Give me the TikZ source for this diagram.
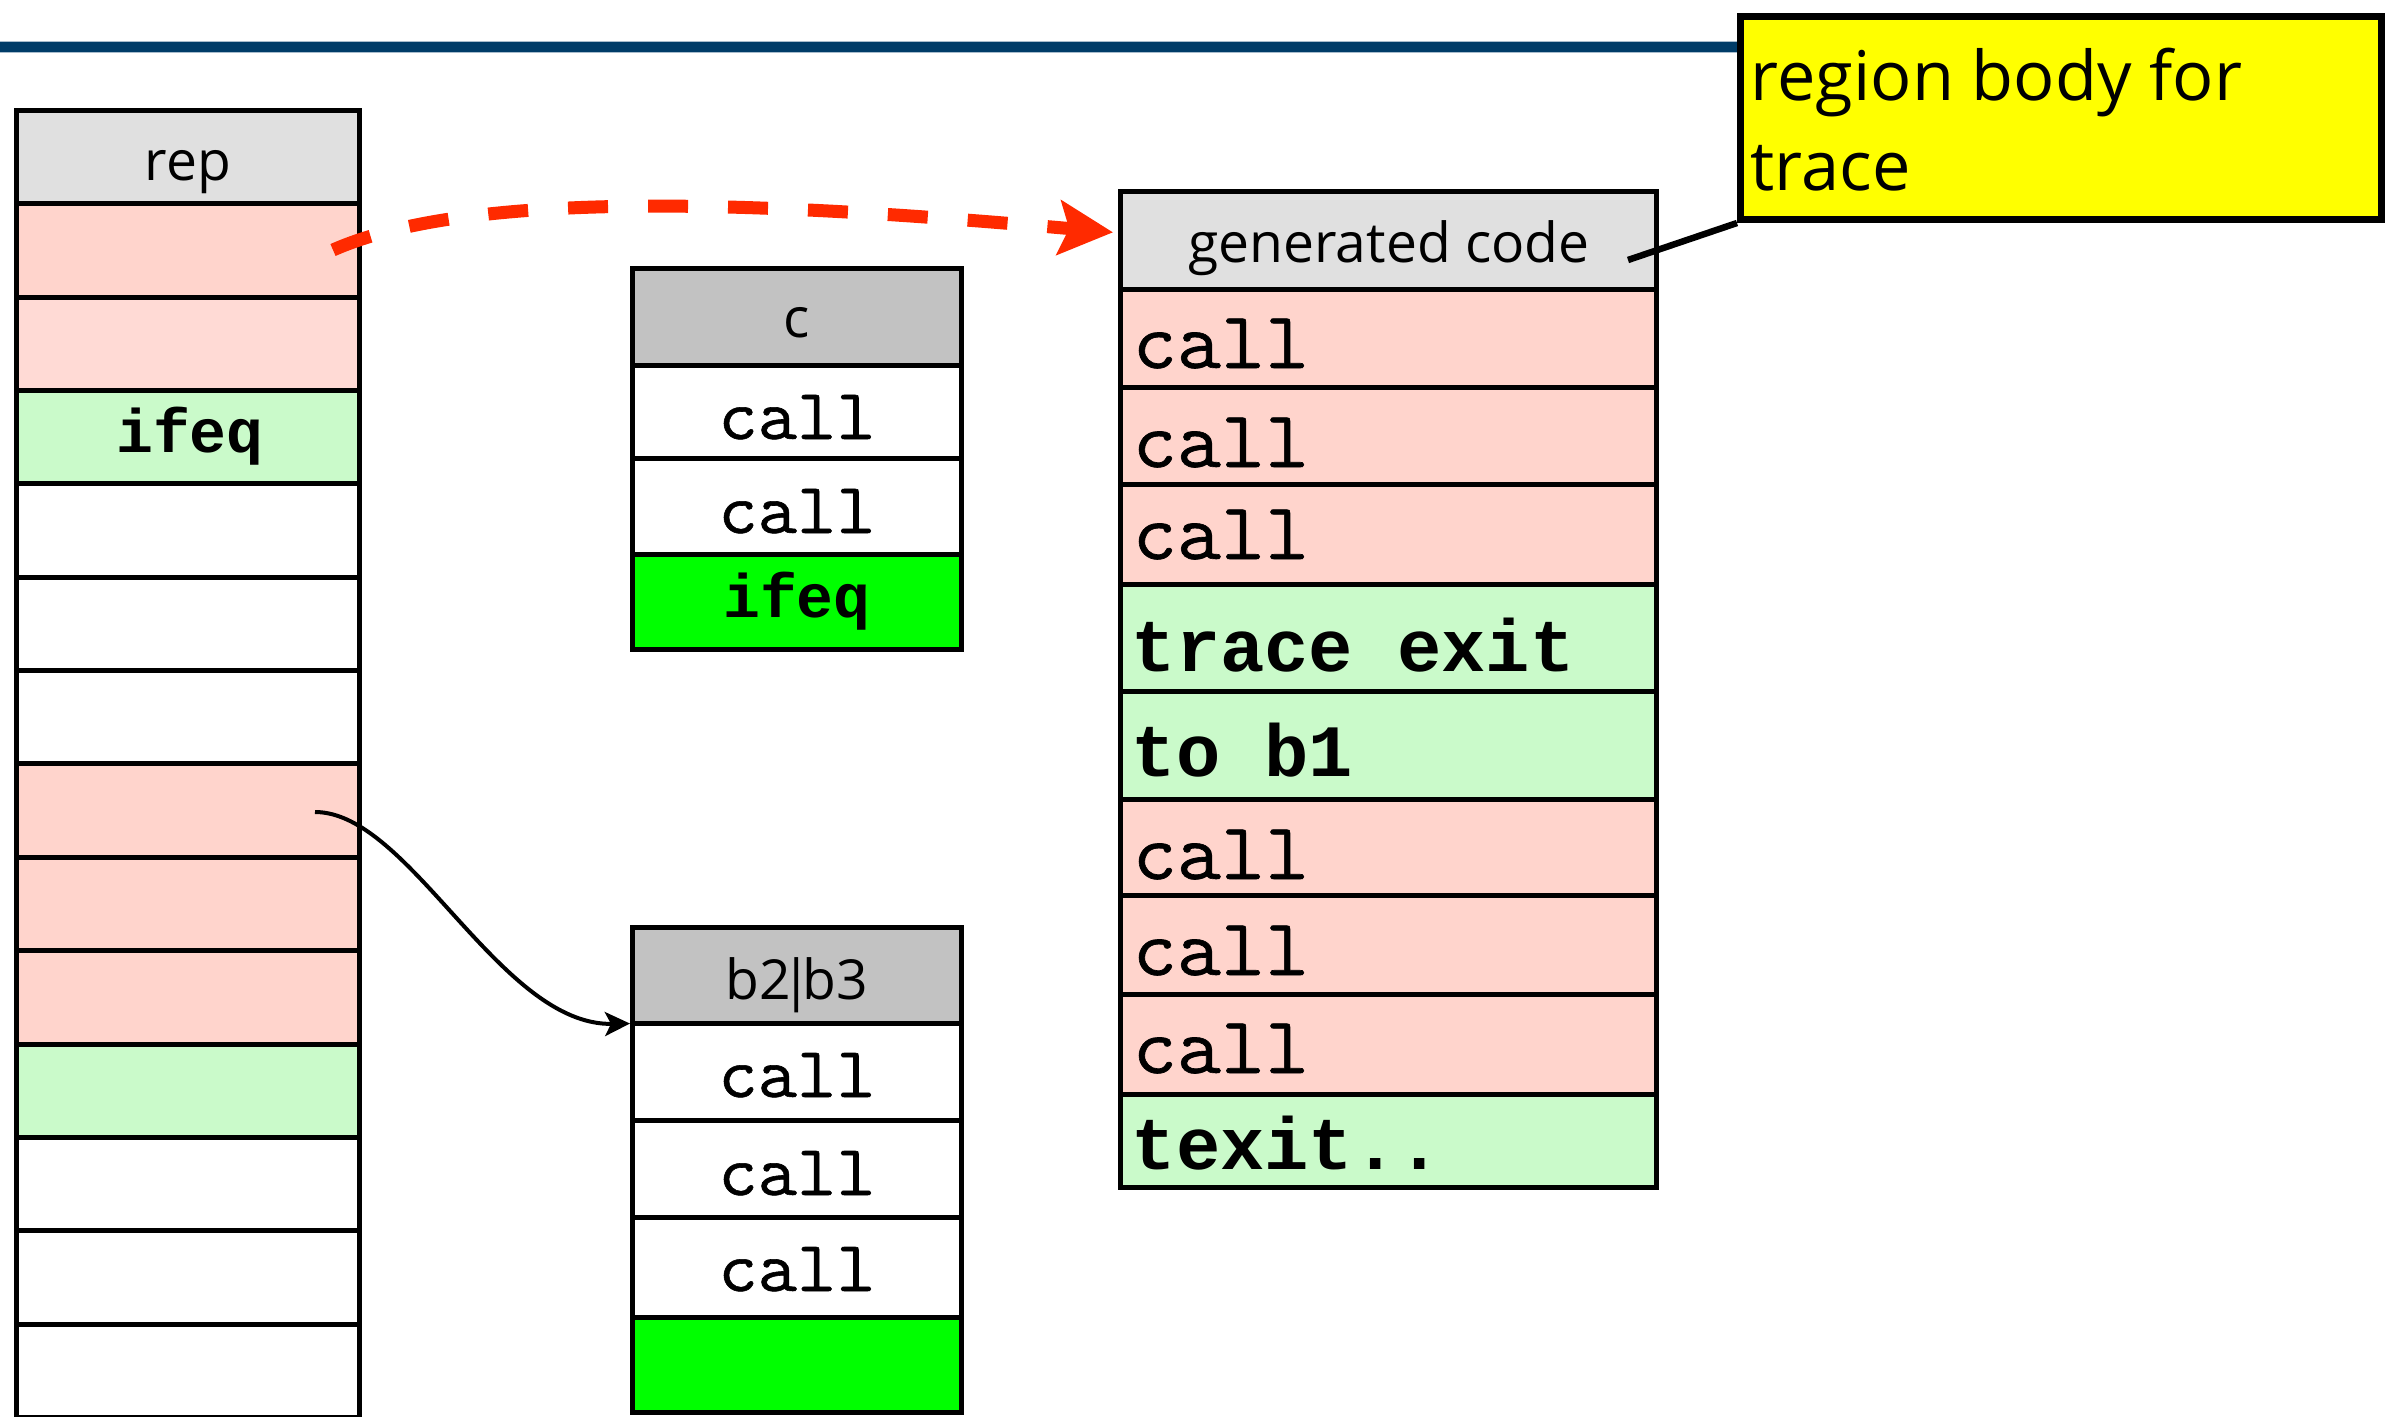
\documentclass[tikz,border=0pt]{standalone}
\usepackage{fontspec}
\setmonofont{Liberation Mono}
\newfontfamily\gill{Open Sans}
\newfontfamily\thintt[FakeStretch=1.06,FakeBold=0.8]{Latin Modern Mono}
\usetikzlibrary{arrows.meta}

\definecolor{hdrlight}{HTML}{E0E0E0}
\definecolor{hdrdark}{HTML}{C2C2C2}
\definecolor{pinkA}{HTML}{FFD4CC}
\definecolor{pinkB}{HTML}{FFDAD5}
\definecolor{paleg}{HTML}{CAFACA}
\definecolor{brightg}{HTML}{00FF00}
\definecolor{notey}{HTML}{FFFF00}
\definecolor{rulebl}{HTML}{003C68}
\definecolor{ruleedge}{HTML}{A8BCCC}
\definecolor{arrred}{HTML}{FF2A00}

\tikzset{
  cellbox/.style={draw=black,line width=0.5mm,inner sep=0pt,outer sep=0pt,anchor=north west},
  hdrtext/.style={anchor=base,inner sep=0pt,font=\gill\fontsize{15.7}{18}\selectfont},
  smallcode/.style={anchor=base,inner sep=0pt,font=\thintt\fontsize{20.5}{22}\selectfont},
  smallbold/.style={anchor=base,inner sep=0pt,font=\ttfamily\bfseries\fontsize{17.5}{20}\selectfont},
  bigcode/.style={anchor=base west,inner sep=0pt,font=\thintt\fontsize{23}{26}\selectfont},
  bigbold/.style={anchor=base west,inner sep=0pt,font=\ttfamily\bfseries\fontsize{21}{24}\selectfont},
  notetext/.style={anchor=base west,inner sep=0pt,font=\gill\fontsize{19.5}{22}\selectfont},
}

% one cell of a column: name, left, top, right, bottom, fill
\newcommand\mkcell[6]{%
  \node[cellbox,fill=#6,minimum width=(#4-#2)*0.1mm,minimum height=(#5-#3)*0.1mm] (#1) at (#2,#3) {};}

\begin{document}
\begin{tikzpicture}[x=0.1mm,y=-0.1mm]
\useasboundingbox (0,0) rectangle (2391,1416);

% title rule
\draw[ruleedge,line width=1.2mm] (0,47) -- (1740,47);
\draw[rulebl,line width=1.0mm] (0,47) -- (1740,47);

% rep column
\foreach \i/\f in {0/hdrlight,1/pinkA,2/pinkB,3/paleg,4/white,5/white,6/white,
                   7/pinkA,8/pinkA,9/pinkA,10/paleg,11/white,12/white,13/white} {
  \pgfmathsetmacro\yt{110.5+\i*93.35}
  \pgfmathsetmacro\yb{\yt+93.35}
  \mkcell{rep\i}{16.5}{\yt}{359}{\yb}{\f}
}
\node[hdrtext] (reptxt) at (188,180) {rep};
\node[smallbold] (repifeq) at (190,452) {ifeq};

% block c
\foreach \i/\t/\b/\f in {0/268.5/365/hdrdark,1/365/458.5/white,2/458.5/554/white,3/554/649.5/brightg} {
  \mkcell{cc\i}{632}{\t}{961.5}{\b}{\f}
}
\node[hdrtext] (ctxt) at (797,337) {c};
\node[smallcode] (ccall1) at (797,439) {call};
\node[smallcode] (ccall2) at (797,533) {call};
\node[smallbold] (cifeq) at (797,617) {ifeq};

% block b2|b3
\foreach \i/\t/\b/\f in {0/927/1023.5/hdrdark,1/1023.5/1120/white,2/1120/1217.5/white,
                         3/1217.5/1317/white,4/1317/1412/brightg} {
  \mkcell{bb\i}{632}{\t}{961.5}{\b}{\f}
}
\node[hdrtext] (btxt) at (797,999) {b2\kern-0.17em|\kern-0.17em b3};
\node[smallcode] (bcall1) at (797,1097) {call};
\node[smallcode] (bcall2) at (797,1195) {call};
\node[smallcode] (bcall3) at (797,1291) {call};

% generated code column
\foreach \i/\t/\b/\f in {0/191.5/289.5/hdrlight,1/289.5/387.5/pinkA,2/387.5/484.5/pinkA,
                         3/484.5/584/pinkA,4/584/691.5/paleg,5/691.5/799/paleg,
                         6/799/895/pinkA,7/895/994/pinkA,8/994/1094/pinkA,9/1094/1187/paleg} {
  \mkcell{gen\i}{1120.5}{\t}{1656.5}{\b}{\f}
}
\node[hdrtext] (gentxt) at (1389,262) {generated code};
\node[bigcode] (g1) at (1132,368) {call};
\node[bigcode] (g2) at (1132,467) {call};
\node[bigcode] (g3) at (1132,559) {call};
\node[bigbold] (g4) at (1131,671) {trace exit};
\node[bigbold] (g5) at (1131,776) {to b1};
\node[bigcode] (g6) at (1132,879) {call};
\node[bigcode] (g7) at (1132,975) {call};
\node[bigcode] (g8) at (1132,1073) {call};
\node[bigbold] (g9) at (1131,1169) {texit..};

% note
\node[draw=black,line width=0.7mm,fill=notey,inner sep=0pt,anchor=north west,
      minimum width=64.1mm,minimum height=20.3mm] (note) at (1737,13) {};
\node[notetext] (nt1) at (1750,100) {region body for};
\node[notetext] (nt2) at (1750,190) {trace};
\coordinate (callpt) at (1628,260);
\draw[line width=0.65mm] (callpt) -- (note.south west);

% trace arrow from rep to generated code
\coordinate (dstart) at (333,250);
\draw[arrred,line width=1.3mm,dash pattern=on 4mm off 4mm,
      -{Stealth[length=5.4mm,width=5.4mm,inset=1mm]},shorten >=0.75mm]
  (dstart) .. controls (480,185) and (800,205) .. ([yshift=0.75mm]gen0.west);

% branch arrow from rep to b2|b3
\coordinate (bstart) at (315,812);
\draw[line width=0.4mm,-{Stealth[length=2.5mm,width=2.4mm,inset=0.6mm]},shorten >=0.2mm]
  (bstart) .. controls (410,812) and (500,1026) .. (bb0.south west);
\end{tikzpicture}
\end{document}
